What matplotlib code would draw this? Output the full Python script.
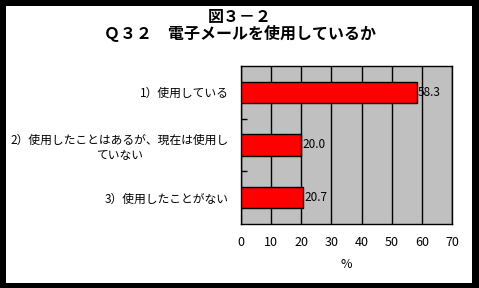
import matplotlib
matplotlib.use("Agg")
import matplotlib.pyplot as plt
from matplotlib.patches import Rectangle

plt.rcParams['font.family'] = ['Noto Sans CJK JP', 'DejaVu Sans']

categories = ["1）使用している",
              "2）使用したことはあるが、現在は使用し\nていない",
              "3）使用したことがない"]
values = [58.3, 20.0, 20.7]
xticks = [0, 10, 20, 30, 40, 50, 60, 70]
title1 = "図３－２"
title2 = "Ｑ３２　電子メールを使用しているか"
xlabel = "%"

W, H = 479, 288
fig = plt.figure(figsize=(W / 100, H / 100), dpi=100)
fig.patch.set_facecolor('black')
# white inner area (black frame)
fig.add_artist(Rectangle((6 / W, 5 / H), (472 - 6) / W, (282 - 5) / H,
                         transform=fig.transFigure, facecolor='white',
                         edgecolor='none', zorder=0))

ax = fig.add_axes([241 / W, (H - 224) / H, (452 - 241) / W, (224 - 66) / H])
ax.set_facecolor('#c0c0c0')

ypos = list(range(len(categories)))
ax.barh(ypos, values, height=0.4, color='#ff0000', edgecolor='black',
        linewidth=1, zorder=3)
for y, v in zip(ypos, values):
    ax.text(v + 0.3, y, f"{v:.1f}", va='center', ha='left', fontsize=8.5,
            zorder=4)

ax.set_xlim(0, 70)
ax.set_ylim(len(categories) - 0.5, -0.5)
ax.set_xticks(xticks)
ax.set_xticklabels([str(t) for t in xticks], fontsize=9)
ax.xaxis.grid(True, color='black', linewidth=1, zorder=1)
ax.set_axisbelow(True)
ax.tick_params(axis='x', length=0, pad=9)

ax.set_yticks(ypos)
ax.set_yticklabels(categories, fontsize=8.5, multialignment='center')
ax.set_yticks([0.5, 1.5], minor=True)
ax.tick_params(axis='y', which='major', length=0, pad=9)
ax.tick_params(axis='y', which='minor', direction='in', length=4, width=1)

for s in ax.spines.values():
    s.set_color('black')
    s.set_linewidth(1)

ax.set_xlabel(xlabel, fontsize=9, labelpad=6)

fig.text(0.5, 1 - 17 / H, title1, ha='center', va='center',
         fontsize=11.5, fontweight='bold')
fig.text(0.5, 1 - 34 / H, title2, ha='center',
         va='center', fontsize=11.5, fontweight='bold')

fig.savefig("out.png", dpi=100, facecolor=fig.get_facecolor())
